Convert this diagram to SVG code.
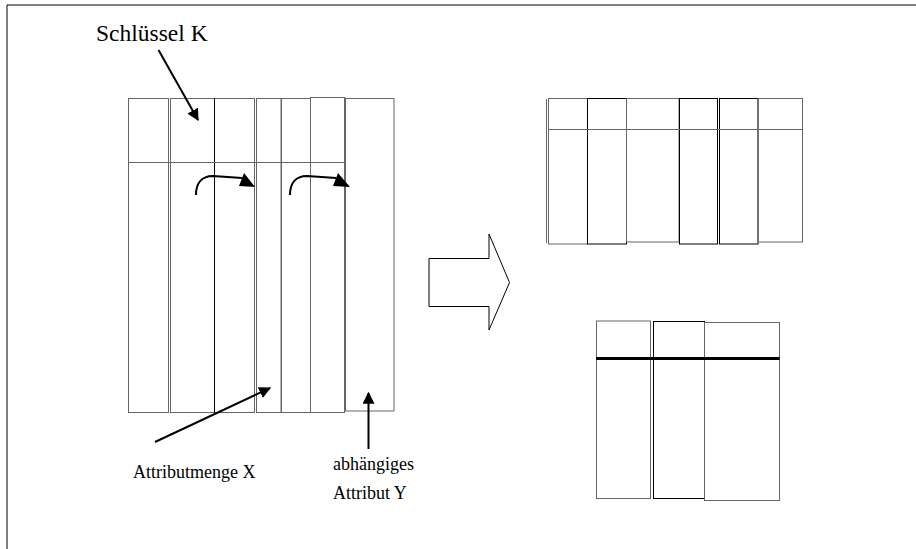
<svg xmlns="http://www.w3.org/2000/svg" width="916" height="549" viewBox="0 0 916 549">
<defs>
<style>
.col{fill:none;stroke:#000;stroke-width:1}
.colg{fill:none;stroke:#666;stroke-width:1}
.ln{fill:none;stroke:#000;stroke-width:1}
.ar{fill:none;stroke:#000;stroke-width:2}
.t{font-family:"Liberation Serif","Times New Roman",serif;font-size:18px;fill:#000}
</style>
<marker id="ah" viewBox="0 0 10 10" refX="9" refY="5" markerWidth="6" markerHeight="6" markerUnits="strokeWidth" orient="auto">
<path d="M0,0 L10,5 L0,10 z" fill="#000"/>
</marker>
</defs>
<rect width="916" height="549" fill="#fff"/>
<path d="M916,5 H7 V549" class="ln" stroke-width="1.5"/>

<g id="table-left">
<rect x="128.5" y="98.5" width="40" height="314" class="colg"/>
<rect x="170.5" y="98.5" width="84" height="314" class="colg"/>
<line x1="214.5" y1="98.5" x2="214.5" y2="412.5" class="col"/>
<rect x="256.5" y="98.5" width="24.5" height="314" class="colg" stroke-width="1.5"/>
<rect x="281.5" y="98.5" width="29" height="314" class="colg"/>
<line x1="310.5" y1="98" x2="310.5" y2="412.5" class="col"/>
<rect x="310.5" y="97.5" width="34" height="315" class="colg"/>
<rect x="345.5" y="98.5" width="48.5" height="312.5" class="colg"/>
<line x1="128" y1="162.5" x2="345" y2="162.5" class="colg"/>
</g>

<g id="table-top-right">
<line x1="546.5" y1="99" x2="546.5" y2="243" class="colg"/>
<rect x="548.5" y="98.5" width="39" height="145.5" class="colg"/>
<rect x="587.5" y="98.5" width="39" height="145.5" class="col"/>
<rect x="626.5" y="98.5" width="52.5" height="143.5" class="colg"/>
<rect x="679.5" y="98.5" width="38" height="145.5" class="col"/>
<rect x="719.5" y="98.5" width="38.5" height="145.5" class="col"/>
<rect x="758" y="98.5" width="44.5" height="143.5" class="colg"/>
<line x1="548" y1="129.5" x2="803" y2="129.5" class="colg"/>
</g>

<g id="table-bottom-right">
<rect x="596.5" y="321" width="54" height="177.5" class="colg"/>
<rect x="653.5" y="321.5" width="51" height="177" class="col"/>
<rect x="704.5" y="322.5" width="75" height="178" class="colg"/>
<line x1="596" y1="358.5" x2="779.5" y2="358.5" stroke="#000" stroke-width="3"/>
</g>

<g id="big-arrow">
<polygon points="429,258.5 489,258.5 489,234 509.5,282.5 489,330 489,306.5 429,306.5" fill="#fff" stroke="#000" stroke-width="1"/>
</g>

<g id="connectors">
<line x1="158.5" y1="50" x2="198" y2="120" class="ar" marker-end="url(#ah)"/>
<line x1="155" y1="442" x2="270" y2="388" class="ar" marker-end="url(#ah)"/>
<line x1="368.5" y1="449" x2="368.5" y2="393" class="ar" marker-end="url(#ah)"/>
<path d="M196,195 C196,184 201,176 213,176 L242,178" class="ar"/>
<polygon points="244,173 239,186 255,187" fill="#000"/>
<path d="M290,195 C290,184 295,176 307,176 L336,178" class="ar"/>
<polygon points="338,173 333,186 350,187" fill="#000"/>
</g>

<g id="labels">
<text class="t" x="96" y="41" style="font-size:23.5px">Schlüssel K</text>
<text class="t" x="133" y="478">Attributmenge X</text>
<text class="t" x="333" y="470">abhängiges</text>
<text class="t" x="333" y="499">Attribut Y</text>
</g>
</svg>
